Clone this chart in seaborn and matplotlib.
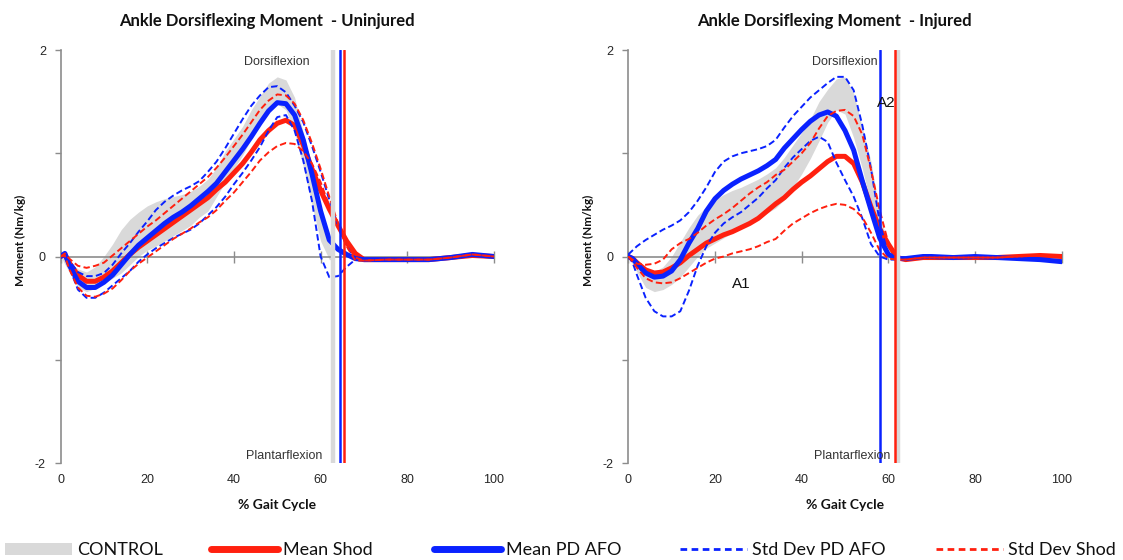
import numpy as np
import pandas as pd
import matplotlib
matplotlib.use("Agg")
import matplotlib.pyplot as plt
import seaborn as sns
from matplotlib.lines import Line2D
from matplotlib.patches import Patch

# ---------------- data ----------------
gait_pct = [0, 1, 2, 4, 6, 8, 10, 12, 14, 16, 18, 20, 22, 24, 26, 28, 30, 32, 34, 36, 38, 40,
            42, 44, 46, 48, 50, 52, 54, 56, 58, 60, 62, 64, 66, 68, 70, 75, 80, 85, 90, 95, 100]
control_pct = [0, 2, 4, 6, 8, 10, 12, 14, 16, 18, 20, 22, 24, 26, 28, 30, 32, 34, 36, 38, 40,
               42, 44, 46, 48, 50, 52, 54, 56, 58, 60, 62, 63]

# Uninjured limb
unj_control_upper = [0.02, -0.05, -0.12, -0.15, -0.10, 0.00, 0.12, 0.26, 0.36, 0.43, 0.49, 0.53, 0.56,
                     0.58, 0.60, 0.63, 0.68, 0.75, 0.86, 1.02, 1.14, 1.26, 1.42, 1.55, 1.68, 1.74,
                     1.71, 1.54, 1.20, 0.82, 0.45, 0.12, 0.00]
unj_control_lower = [0.00, -0.15, -0.30, -0.34, -0.31, -0.26, -0.21, -0.16, -0.08, 0.00, 0.06, 0.10,
                     0.15, 0.20, 0.25, 0.30, 0.38, 0.44, 0.58, 0.72, 0.85, 0.98, 1.14, 1.29, 1.42,
                     1.48, 1.42, 1.20, 0.87, 0.50, 0.15, -0.03, -0.03]
unj_mean_shod = [0.00, 0.02, -0.06, -0.18, -0.24, -0.24, -0.20, -0.14, -0.06, 0.02, 0.09, 0.15, 0.21,
                 0.27, 0.33, 0.39, 0.45, 0.51, 0.57, 0.65, 0.72, 0.81, 0.90, 1.01, 1.13, 1.22, 1.29,
                 1.32, 1.27, 1.08, 0.85, 0.64, 0.46, 0.30, 0.15, 0.03, -0.03, -0.03, -0.03, -0.03,
                 -0.01, 0.01, 0.00]
unj_mean_afo = [0.00, 0.03, -0.08, -0.24, -0.30, -0.30, -0.25, -0.18, -0.08, 0.02, 0.11, 0.18, 0.25,
                0.32, 0.38, 0.43, 0.49, 0.56, 0.63, 0.71, 0.82, 0.93, 1.04, 1.16, 1.29, 1.41, 1.49,
                1.48, 1.37, 1.13, 0.80, 0.44, 0.16, 0.07, 0.02, -0.02, -0.03, -0.03, -0.03, -0.03,
                -0.01, 0.02, 0.00]
unj_sd_afo_upper = [0.00, 0.04, -0.04, -0.15, -0.19, -0.19, -0.16, -0.08, 0.03, 0.13, 0.24, 0.34,
                    0.45, 0.53, 0.59, 0.64, 0.68, 0.73, 0.82, 0.92, 1.05, 1.19, 1.33, 1.46, 1.56,
                    1.64, 1.65, 1.59, 1.46, 1.30, 1.07, 0.82, 0.55, 0.30, 0.10, -0.02, -0.03, -0.03,
                    -0.03, -0.03, -0.01, 0.02, 0.00]
unj_sd_afo_lower = [0.00, 0.02, -0.10, -0.32, -0.40, -0.40, -0.35, -0.28, -0.21, -0.14, -0.05, 0.02,
                    0.08, 0.13, 0.18, 0.22, 0.26, 0.32, 0.40, 0.48, 0.58, 0.70, 0.81, 0.93, 1.06,
                    1.22, 1.35, 1.37, 1.22, 0.93, 0.54, 0.00, -0.20, -0.19, -0.10, -0.03, -0.03,
                    -0.03, -0.03, -0.03, -0.01, 0.02, 0.00]
unj_sd_shod_upper = [0.00, 0.03, -0.02, -0.09, -0.11, -0.09, -0.06, 0.01, 0.08, 0.15, 0.22, 0.29,
                     0.35, 0.42, 0.49, 0.56, 0.63, 0.70, 0.77, 0.86, 0.96, 1.07, 1.18, 1.30, 1.42,
                     1.51, 1.57, 1.56, 1.48, 1.32, 1.10, 0.85, 0.58, 0.32, 0.10, -0.04, -0.04, -0.03,
                     -0.03, -0.03, -0.01, 0.02, 0.00]
unj_sd_shod_lower = [0.00, 0.01, -0.12, -0.30, -0.38, -0.39, -0.36, -0.31, -0.23, -0.14, -0.07, -0.01,
                     0.05, 0.11, 0.17, 0.22, 0.27, 0.33, 0.38, 0.45, 0.54, 0.62, 0.72, 0.82, 0.93,
                     1.01, 1.07, 1.10, 1.09, 1.02, 0.90, 0.72, 0.49, 0.29, 0.11, -0.01, -0.04, -0.03,
                     -0.03, -0.03, -0.01, 0.02, 0.00]
unj_toe_off = {"control": 62.9, "afo": 64.5, "shod": 65.5}

# Injured limb
inj_control_upper = [0.02, -0.05, -0.12, -0.15, -0.10, 0.00, 0.14, 0.28, 0.40, 0.48, 0.55, 0.60, 0.64,
                     0.67, 0.71, 0.75, 0.80, 0.86, 0.96, 1.08, 1.20, 1.33, 1.50, 1.62, 1.72, 1.74,
                     1.58, 1.25, 0.92, 0.42, 0.10, 0.02, 0.00]
inj_control_lower = [0.00, -0.15, -0.30, -0.34, -0.32, -0.27, -0.20, -0.10, 0.00, 0.08, 0.13, 0.18,
                     0.23, 0.28, 0.33, 0.38, 0.42, 0.47, 0.55, 0.67, 0.80, 0.95, 1.12, 1.30, 1.42,
                     1.38, 1.15, 0.85, 0.50, 0.15, -0.02, -0.03, -0.03]
inj_mean_shod = [0.00, -0.02, -0.06, -0.13, -0.16, -0.15, -0.11, -0.06, 0.01, 0.07, 0.13, 0.17, 0.21,
                 0.24, 0.28, 0.32, 0.37, 0.44, 0.51, 0.57, 0.65, 0.72, 0.78, 0.85, 0.92, 0.97, 0.97,
                 0.90, 0.72, 0.48, 0.27, 0.12, -0.01, -0.03, -0.02, -0.01, -0.01, -0.01, -0.01,
                 -0.01, 0.00, 0.01, 0.00]
inj_mean_afo = [0.00, -0.02, -0.07, -0.16, -0.20, -0.19, -0.14, -0.03, 0.13, 0.27, 0.44, 0.56, 0.64,
                0.70, 0.75, 0.79, 0.83, 0.88, 0.94, 1.05, 1.14, 1.23, 1.31, 1.37, 1.40, 1.36, 1.22,
                1.03, 0.73, 0.45, 0.18, 0.02, -0.02, -0.02, -0.01, 0.00, 0.00, -0.01, 0.00, -0.01,
                -0.02, -0.03, -0.05]
inj_sd_afo_upper = [0.02, 0.06, 0.10, 0.16, 0.21, 0.26, 0.30, 0.35, 0.43, 0.54, 0.67, 0.82, 0.92,
                    0.97, 1.00, 1.02, 1.04, 1.07, 1.13, 1.25, 1.36, 1.45, 1.54, 1.61, 1.68, 1.74,
                    1.74, 1.61, 1.27, 0.85, 0.33, 0.01, -0.03, -0.02, -0.01, 0.00, 0.00, -0.01, 0.00,
                    -0.01, -0.02, -0.03, -0.05]
inj_sd_afo_lower = [0.00, -0.06, -0.18, -0.40, -0.53, -0.58, -0.58, -0.53, -0.33, -0.09, 0.10, 0.23,
                    0.32, 0.38, 0.43, 0.50, 0.57, 0.66, 0.74, 0.86, 0.96, 1.04, 1.12, 1.16, 1.11,
                    0.91, 0.74, 0.58, 0.37, 0.12, 0.00, -0.03, -0.03, -0.02, -0.01, 0.00, 0.00,
                    -0.01, 0.00, -0.01, -0.02, -0.03, -0.05]
inj_sd_shod_upper = [0.00, -0.03, -0.07, -0.08, -0.07, -0.03, 0.07, 0.13, 0.17, 0.23, 0.30, 0.36,
                     0.41, 0.47, 0.54, 0.61, 0.67, 0.72, 0.79, 0.84, 0.92, 1.00, 1.10, 1.24, 1.36,
                     1.41, 1.42, 1.36, 1.18, 0.84, 0.45, 0.13, -0.03, -0.03, -0.02, -0.01, -0.01,
                     -0.01, -0.01, -0.01, 0.00, 0.01, 0.00]
inj_sd_shod_lower = [0.00, -0.05, -0.11, -0.21, -0.25, -0.26, -0.25, -0.21, -0.16, -0.11, -0.06, -0.02,
                     0.00, 0.03, 0.05, 0.07, 0.10, 0.14, 0.17, 0.25, 0.32, 0.37, 0.42, 0.46, 0.49,
                     0.51, 0.50, 0.46, 0.38, 0.23, 0.06, -0.02, -0.03, -0.03, -0.02, -0.01, -0.01,
                     -0.01, -0.01, -0.01, 0.00, 0.01, 0.00]
inj_toe_off = {"control": 62.2, "afo": 58.1, "shod": 61.6}

titles = ["Ankle Dorsiflexing Moment  - Uninjured", "Ankle Dorsiflexing Moment  - Injured"]
x_ticks = [0, 20, 40, 60, 80, 100]
y_ticks = [-2, 0, 2]
y_minor = [-1, 1]
legend_labels = ["CONTROL", "Mean Shod", "Mean PD AFO", "Std Dev PD AFO", "Std Dev Shod"]

# ---------------- style ----------------
sns.set_theme(style="white")
plt.rcParams["font.family"] = ["Liberation Sans", "DejaVu Sans"]
plt.rcParams["axes.unicode_minus"] = False

RED = "#ff200f"
BLUE = "#0a22ff"
GRAY = "#d9d9d9"
AXC = "#8c8c8c"
TXT = "#262626"
DASH = (0, (3.3, 1.7))

fig = plt.figure(figsize=(11.23, 5.6), dpi=100)
ax_l = fig.add_axes([0.0539, 0.1732, 0.3860, 0.7375])
ax_r = fig.add_axes([0.5595, 0.1732, 0.3859, 0.7375])


def draw_panel(ax, ctrl_up, ctrl_lo, m_shod, m_afo, sd_afo_up, sd_afo_lo, sd_shod_up, sd_shod_lo, toe):
    ax.fill_between(control_pct, ctrl_lo, ctrl_up, color=GRAY, lw=0, zorder=1)
    sns.lineplot(x=gait_pct, y=m_shod, color=RED, lw=3.6, ax=ax, zorder=3, sort=False, estimator=None)
    sns.lineplot(x=gait_pct, y=m_afo, color=BLUE, lw=3.6, ax=ax, zorder=4, sort=False, estimator=None)
    for y, c in [(sd_afo_up, BLUE), (sd_afo_lo, BLUE), (sd_shod_up, RED), (sd_shod_lo, RED)]:
        sns.lineplot(x=gait_pct, y=y, color=c, lw=1.4, linestyle=DASH, ax=ax, zorder=5,
                     sort=False, estimator=None)
    ax.axvline(toe["control"], color=GRAY, lw=3.2, zorder=6)
    ax.axvline(toe["afo"], color=BLUE, lw=1.8, zorder=7)
    ax.axvline(toe["shod"], color=RED, lw=1.8, zorder=7)

    ax.set_xlim(0, 100)
    ax.set_ylim(-2, 2)
    for s in ["top", "right"]:
        ax.spines[s].set_visible(False)
    ax.spines["left"].set_color(AXC)
    ax.spines["left"].set_linewidth(1.2)
    ax.spines["bottom"].set_position(("data", 0))
    ax.spines["bottom"].set_color(AXC)
    ax.spines["bottom"].set_linewidth(1.2)
    ax.spines["bottom"].set_zorder(2)

    ax.set_xticks(x_ticks)
    ax.tick_params(axis="x", which="major", bottom=True, direction="inout", length=8, width=1.0,
                   color=AXC, labelbottom=False)
    ax.set_yticks(y_ticks)
    ax.set_yticks(y_minor, minor=True)
    ax.tick_params(axis="y", which="both", left=True, direction="out", length=4, width=1.0,
                   color=AXC, labelsize=9, labelcolor=TXT, pad=6.5)
    ax.set_xlabel("")
    ax.set_ylabel("")

    sec = ax.secondary_xaxis("bottom")
    sec.set_xticks(x_ticks)
    sec.tick_params(length=0, pad=8, labelsize=9, labelcolor=TXT)
    sec.spines["bottom"].set_visible(False)

    ax.text(50, 1.88, "Dorsiflexion", ha="center", va="center", fontsize=9, color="#333333", zorder=8)
    ax.text(51.7, -1.93, "Plantarflexion", ha="center", va="center", fontsize=9, color="#333333",
            zorder=8)


draw_panel(ax_l, unj_control_upper, unj_control_lower, unj_mean_shod, unj_mean_afo,
           unj_sd_afo_upper, unj_sd_afo_lower, unj_sd_shod_upper, unj_sd_shod_lower, unj_toe_off)
draw_panel(ax_r, inj_control_upper, inj_control_lower, inj_mean_shod, inj_mean_afo,
           inj_sd_afo_upper, inj_sd_afo_lower, inj_sd_shod_upper, inj_sd_shod_lower, inj_toe_off)

ax_r.text(26, -0.27, "A1", ha="center", va="center", fontsize=11, color="#111111", zorder=8)
ax_r.text(59.5, 1.49, "A2", ha="center", va="center", fontsize=11, color="#111111", zorder=8)

# titles and axis labels
bold = dict(family=["Lato", "DejaVu Sans"], fontweight="bold", color="#111111")
fig.text(0.238, 0.9625, titles[0], ha="center", va="center", fontsize=12, **bold)
fig.text(0.743, 0.9625, titles[1], ha="center", va="center", fontsize=12, **bold)
for x in (0.0178, 0.5236):
    fig.text(x, 0.570, "Moment (Nm/kg)", ha="center", va="center", rotation=90, fontsize=8.5, **bold)
for ax in (ax_l, ax_r):
    ax.text(0.5, -0.102, "% Gait Cycle", transform=ax.transAxes, ha="center", va="center",
            fontsize=10, **bold)

# legend (one entry per anchor, laid out along the bottom)
handles = [
    Patch(facecolor=GRAY, edgecolor="none"),
    Line2D([], [], color=RED, lw=5),
    Line2D([], [], color=BLUE, lw=5),
    Line2D([], [], color=BLUE, lw=2, linestyle=(0, (2.4, 1.6))),
    Line2D([], [], color=RED, lw=2, linestyle=(0, (2.4, 1.6))),
]
anchors_x = [5, 211, 434, 680, 936]
for h, lab, xp in zip(handles, legend_labels, anchors_x):
    fig.legend([h], [lab], loc="center left", bbox_to_anchor=(xp / 1123, 0.017), frameon=False,
               borderpad=0, borderaxespad=0, handlelength=3.7, handletextpad=0.3,
               prop=dict(family=["Lato", "DejaVu Sans"], size=13), labelcolor="#111111")

fig.savefig("out.png", dpi=100)
